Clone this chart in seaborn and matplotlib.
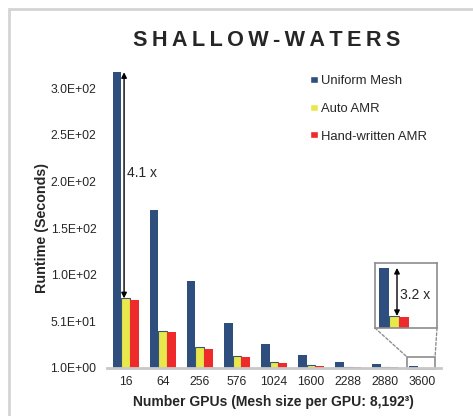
import matplotlib
matplotlib.use("Agg")
import matplotlib.pyplot as plt
import matplotlib.patches as mpatches
from matplotlib.patches import ConnectionPatch
import seaborn as sns
import pandas as pd

# ---- data ----
gpus = ["16", "64", "256", "576", "1024", "1600", "2288", "2880", "3600"]
uniform_mesh = [318, 170, 94.5, 49, 26.5, 15, 7.7, 5.0, 3.4]
auto_amr = [75.7, 41, 23, 14, 7.4, 4.5, 2.4, 2.4, 1.06]
hand_amr = [74, 40, 21, 12.5, 6.4, 3.5, 1.6, 1.6, 1.0]
series = ["Uniform Mesh", "Auto AMR", "Hand-written AMR"]
y_ticks = [1, 51, 101, 151, 201, 251, 301]
speedup_main = "4.1 x"
speedup_inset = "3.2 x"

colors = ["#2E4E7E", "#E8E84C", "#EE2A2A"]

df = pd.DataFrame({
    "GPUs": gpus * 3,
    "Runtime": uniform_mesh + auto_amr + hand_amr,
    "Series": [series[0]] * len(gpus) + [series[1]] * len(gpus) + [series[2]] * len(gpus),
})

sns.set_style("white")
plt.rcParams["font.family"] = ["Liberation Sans", "DejaVu Sans"]

W, H = 473, 416
fig = plt.figure(figsize=(W / 100, H / 100), dpi=100)

# main axes
ax_left, ax_right = 107 / W, 441 / W
base_px = 368
ymax = 321
top_px = base_px - (ymax - 1) * 0.933
ax = fig.add_axes([ax_left, 1 - base_px / H, ax_right - ax_left, (base_px - top_px) / H])

sns.barplot(data=df, x="GPUs", y="Runtime", hue="Series", order=gpus,
            hue_order=series, palette=colors, width=0.7, ax=ax,
            saturation=1, legend=True)
for bar in ax.containers[1]:
    bar.set_edgecolor("#3A5570")
    bar.set_linewidth(0.8)
for i in (0, 2):
    for bar in ax.containers[i]:
        bar.set_linewidth(0)

ax.set_ylim(1, ymax)
ax.set_xlim(-0.5, len(gpus) - 0.5)
ax.set_yticks(y_ticks)
ax.set_yticklabels(["{:.1E}".format(v) for v in y_ticks], fontsize=8.7)
ax.tick_params(axis="y", length=0, pad=7.5)
ax.tick_params(axis="x", length=0, pad=6, labelsize=8.7)
for s in ("top", "right", "left"):
    ax.spines[s].set_visible(False)
ax.spines["bottom"].set_color("#C8C8C8")
ax.spines["bottom"].set_linewidth(2)
ax.set_xlabel("")
ax.set_ylabel("")
ax.grid(False)

# legend
handles, labels = ax.get_legend_handles_labels()
leg = ax.legend(handles, labels, loc="upper left", bbox_to_anchor=(305 / W, 1 - 70 / H),
                bbox_transform=fig.transFigure, frameon=False, fontsize=9.4,
                handlelength=0.6, handleheight=0.45, handletextpad=0.2,
                labelspacing=1.2, borderaxespad=0)

# main speedup arrow
ax.annotate("", xy=(-0.04, uniform_mesh[0]), xytext=(-0.04, auto_amr[0]),
            arrowprops=dict(arrowstyle="<|-|>", color="black", lw=1.0,
                            mutation_scale=8, shrinkA=0, shrinkB=0))
ax.text(0.04, 210, speedup_main, fontsize=10, va="center", ha="left")

# small highlight rectangle around last group
rect = mpatches.Rectangle((7.586, 0.0), 0.754, 12.8, fill=False, edgecolor="#8C8C8C",
                          lw=1.2, clip_on=False)
ax.add_patch(rect)

# inset axes
ins = fig.add_axes([375 / W, 1 - 328 / H, 62 / W, 65 / H])
sub = df[df["GPUs"] == gpus[-1]]
sns.barplot(data=sub, x="GPUs", y="Runtime", hue="Series", hue_order=series,
            palette=colors, width=0.8, ax=ins, saturation=1, legend=False)
for bar in ins.containers[1]:
    bar.set_edgecolor("#3A5570")
    bar.set_linewidth(0.8)
for i in (0, 2):
    for bar in ins.containers[i]:
        bar.set_linewidth(0)
ins.set_xlim(-0.507, 1.147)
ins.set_ylim(0.475, 3.64)
ins.set_xticks([])
ins.set_yticks([])
ins.set_xlabel("")
ins.set_ylabel("")
for s in ins.spines.values():
    s.set_visible(True)
    s.set_color("#8C8C8C")
    s.set_linewidth(1.2)
ins.annotate("", xy=(0.08, uniform_mesh[-1]), xytext=(0.08, auto_amr[-1]),
             arrowprops=dict(arrowstyle="<|-|>", color="black", lw=1.0,
                             mutation_scale=8, shrinkA=0, shrinkB=0))
ins.text(0.15, 2.08, speedup_inset, fontsize=10, va="center", ha="left")

# dashed connectors
for (xa, xb) in ((0, 7.586), (1, 8.34)):
    con = ConnectionPatch(xyA=(xa, 0), coordsA=ins.transAxes,
                          xyB=(xb, 12.8), coordsB=ax.transData,
                          linestyle=(0, (2, 1.5)), color="#909090", lw=1.0)
    fig.add_artist(con)

# texts
fig.text(267 / W, 1 - 41 / H, "S\u2009H\u2009A\u2009L\u2009L\u2009O\u2009W\u2009-\u2009W\u2009A\u2009T\u2009E\u2009R\u2009S",
         ha="center", va="center", fontsize=15.6, fontweight="bold")
fig.text(273 / W, 1 - 402 / H, "Number GPUs (Mesh size per GPU: 8,192\u00b3)",
         ha="center", va="center", fontsize=10, fontweight="bold")
fig.text(42 / W, 1 - 228 / H, "Runtime (Seconds)", rotation=90,
         ha="center", va="center", fontsize=10.3, fontweight="bold")

# outer frame
frame = mpatches.Rectangle((9 / W, -0.1), 1.2, 1.1 - 9 / H, transform=fig.transFigure,
                           fill=False, edgecolor="#D4D4D4", lw=2)
fig.add_artist(frame)

fig.savefig("out.png", dpi=100)
